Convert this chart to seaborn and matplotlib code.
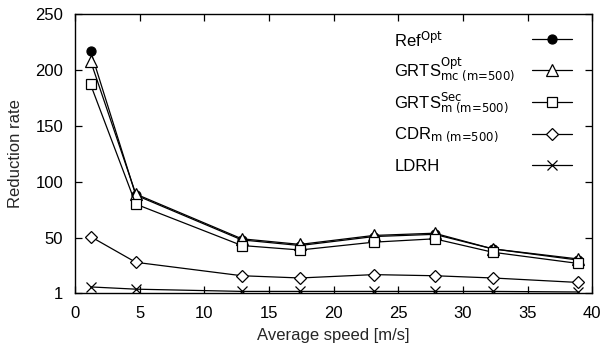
import numpy as np
import pandas as pd
import matplotlib
matplotlib.use("Agg")
import matplotlib.pyplot as plt
from matplotlib.lines import Line2D
import seaborn as sns

speed = [1.2, 4.7, 12.9, 17.4, 23.1, 27.8, 32.3, 38.9]
ref_opt = [217, 88, 48, 43, 51, 53, 40, 30]
grts_mc = [208, 89, 49, 44, 52, 54, 40, 31]
grts_sec = [187, 80, 43, 39, 46, 49, 37, 27]
cdr_m = [51, 28, 16, 14, 17, 16, 14, 10]
ldrh = [6, 4, 2, 2, 2, 2, 2, 1.5]

labels = [r"Ref$^{\text{Opt}}$",
          r"GRTS$^{\text{Opt}}_{\text{mc (m=500)}}$",
          r"GRTS$^{\text{Sec}}_{\text{m (m=500)}}$",
          r"CDR$_{\text{m (m=500)}}$",
          r"LDRH"]
series = [ref_opt, grts_mc, grts_sec, cdr_m, ldrh]
markers = ["o", "^", "s", "D", "x"]
msizes = [6.5, 8.5, 7.5, 6.5, 7]
mfcs = ["black", "white", "white", "white", "black"]

x_ticks = [0, 5, 10, 15, 20, 25, 30, 35, 40]
y_ticks = [1, 50, 100, 150, 200, 250]

sns.set_theme(style="ticks")
plt.rcParams["font.family"] = ["Liberation Sans", "DejaVu Sans"]
plt.rcParams["mathtext.default"] = "regular"

rows = []
for lab, vals in zip(labels, series):
    for xv, yv in zip(speed, vals):
        rows.append({"speed": xv, "rate": yv, "series": lab})
df = pd.DataFrame(rows)

fig = plt.figure(figsize=(6.05, 3.47), dpi=100)
ax = fig.add_axes([0.124, 0.157, 0.855, 0.803])

for lab, mk, ms, fc in zip(labels, markers, msizes, mfcs):
    sub = df[df["series"] == lab]
    sns.lineplot(data=sub, x="speed", y="rate", ax=ax, color="black",
                 marker=mk, markersize=ms, markerfacecolor=fc,
                 markeredgecolor="black", markeredgewidth=0.9,
                 linewidth=0.9, legend=False)

ax.set_xlim(0, 40)
ax.set_ylim(1, 250)
ax.set_xticks(x_ticks)
ax.set_yticks(y_ticks)
ax.tick_params(direction="in", length=5, width=0.9, top=True, right=True,
               labelsize=12, colors="black")
ax.tick_params(axis="x", pad=9.5)
ax.tick_params(axis="y", pad=8.5)
for s in ax.spines.values():
    s.set_linewidth(1.0)
    s.set_color("black")
ax.set_xlabel("Average speed [m/s]", fontsize=12, labelpad=5)
ax.set_ylabel("Reduction rate", fontsize=12, labelpad=9)

# gnuplot-style key: left-aligned labels, samples on the right
text_x = 0.617
line_x0, line_x1 = 0.884, 0.961
text_y = [0.882, 0.776, 0.661, 0.551, 0.437]
line_y = [0.910, 0.799, 0.684, 0.569, 0.458]
for lab, mk, ms, fc, ty, ly in zip(labels, markers, msizes, mfcs, text_y, line_y):
    ax.text(text_x, ty, lab, transform=ax.transAxes, fontsize=12,
            ha="left", va="baseline", color="black")
    ax.add_line(Line2D([line_x0, line_x1], [ly, ly], transform=ax.transAxes,
                       color="black", linewidth=0.9, clip_on=False))
    ax.add_line(Line2D([(line_x0 + line_x1) / 2], [ly], transform=ax.transAxes,
                       color="black", marker=mk, markersize=ms,
                       markerfacecolor=fc, markeredgecolor="black",
                       markeredgewidth=0.9, linestyle="none", clip_on=False))

fig.savefig("out.png", dpi=100)
